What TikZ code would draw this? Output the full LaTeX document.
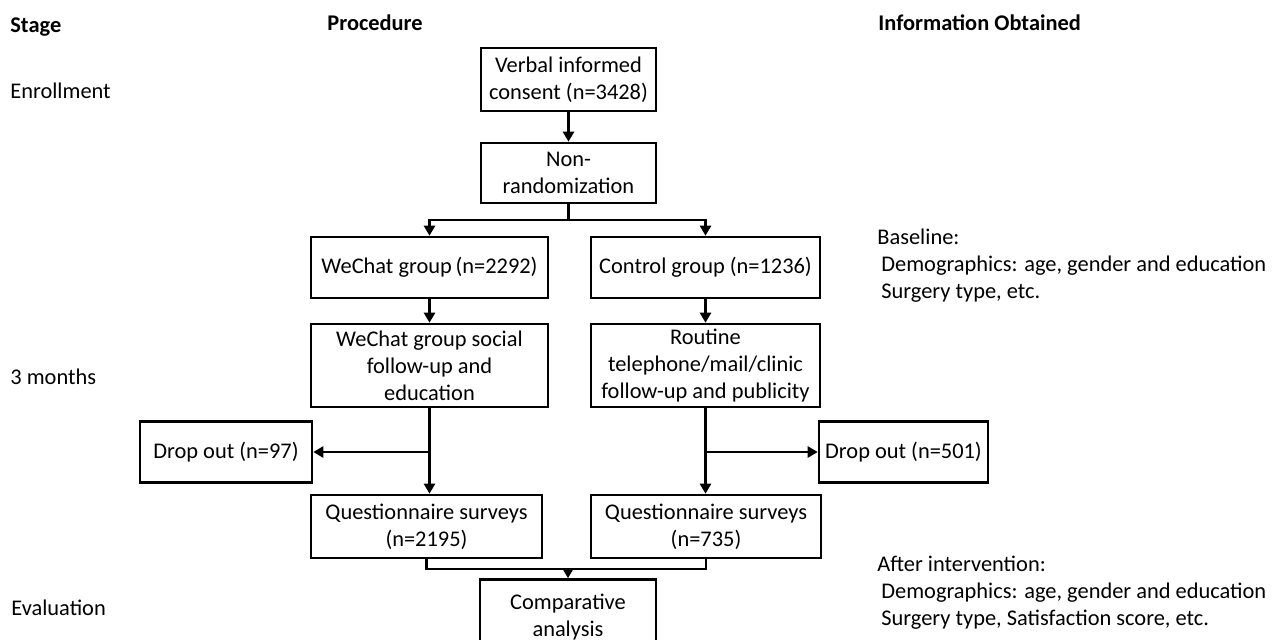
\documentclass[tikz,border=0pt]{standalone}
\usepackage{fontspec}
\setmainfont{Carlito}
\usetikzlibrary{arrows.meta,positioning}
\tikzset{
  every node/.style={font=\fontsize{11.2}{13.5}\selectfont, text=black},
  stepbox/.style={draw, line width=1.3pt, align=center, inner sep=1pt},
  flow/.style={-{Triangle[length=5pt,width=5.5pt]}, line width=1.2pt},
  link/.style={line width=1.2pt},
  heading/.style={font=\fontsize{11.2}{13.5}\selectfont\bfseries, anchor=west},
  stagetext/.style={anchor=west, inner sep=0pt},
  infotext/.style={anchor=west, align=left, inner sep=0pt},
}

\begin{document}
\begin{tikzpicture}[x=0.5pt,y=-0.5pt]
  \clip (0,0) rectangle (1277,639);
  % Column headings and stages
  \node[heading, inner sep=0pt] (hstage) at (10,27) {Stage};
  \node[heading, inner sep=0pt] (hproc) at (327,23) {Procedure};
  \node[heading, inner sep=0pt] (hinfo) at (878,23) {Information Obtained};
  \node[stagetext] (senrol) at (10,91) {Enrollment};
  \node[stagetext] (smonth) at (10,377) {3 months};
  \node[stagetext] (seval) at (11,608) {Evaluation};
  % Procedure boxes (sizes in pt = half the pixel size)
  \node[stepbox, minimum width=87.5pt, minimum height=31.5pt] (consent) at (568.5,79.5) {Verbal informed\\consent (n=3428)};
  \node[stepbox, minimum width=87.5pt, minimum height=30pt] (nonrand) at (568.5,173) {Non-\\randomization};
  \node[stepbox, minimum width=118.5pt, minimum height=30.5pt] (wechat) at (429.5,267.5) {WeChat group\,(n=2292)};
  \node[stepbox, minimum width=114.5pt, minimum height=30.5pt] (control) at (705.5,267.5) {Control group (n=1236)};
  \node[stepbox, minimum width=118.5pt, minimum height=41.5pt] (social) at (429.5,365.5) {WeChat group social\\follow-up and\\education};
  \node[stepbox, minimum width=114.5pt, minimum height=41.5pt] (routine) at (705.5,365.5) {Routine\\telephone/mail/clinic\\follow-up and publicity};
  \node[stepbox, minimum width=86pt, minimum height=30.5pt] (drop97) at (226,452) {Drop out (n=97)};
  \node[stepbox, minimum width=84.5pt, minimum height=30.5pt] (drop501) at (903.5,452) {Drop out (n=501)};
  \node[stepbox, minimum width=115.5pt, minimum height=31.5pt] (qwechat) at (426.5,526.5) {Questionnaire surveys\\(n=2195)};
  \node[stepbox, minimum width=115pt, minimum height=31.5pt] (qcontrol) at (706,526.5) {Questionnaire surveys\\(n=735)};
  \node[stepbox, minimum width=88pt, minimum height=37.5pt] (compare) at (568,617) {Comparative\\analysis};
  % Information obtained
  \node[infotext] (base) at (877,266) {Baseline:\\\hspace*{2pt}Demographics: age, gender and education\\\hspace*{2pt}Surgery type, etc.};
  \node[infotext] (after) at (877,592.5) {After intervention:\\\hspace*{2pt}Demographics: age, gender and education\\\hspace*{2pt}Surgery type, Satisfaction score, etc.};
  % Connectors
  \coordinate (split) at (568.5,220);
  \coordinate (cut97) at (social.south |- drop97.west);
  \coordinate (cut501) at (routine.south |- drop501.east);
  \coordinate (merge) at (568,569);
  \draw[flow] (consent) -- (nonrand);
  \draw[link] (nonrand.south) -- (split);
  \draw[flow] (split) -| (wechat.north);
  \draw[flow] (split) -| (control.north);
  \draw[flow] (wechat) -- (social);
  \draw[flow] (control) -- (routine);
  \draw[flow] (social.south) -- (social.south |- qwechat.north);
  \draw[flow] (routine.south) -- (routine.south |- qcontrol.north);
  \draw[flow] (cut97) -- (drop97.east);
  \draw[flow] (cut501) -- (drop501.west);
  \draw[link] (qwechat.south) |- (merge) -| (qcontrol.south);
  \draw[flow] (merge) -- (compare.north);
\end{tikzpicture}
\end{document}
